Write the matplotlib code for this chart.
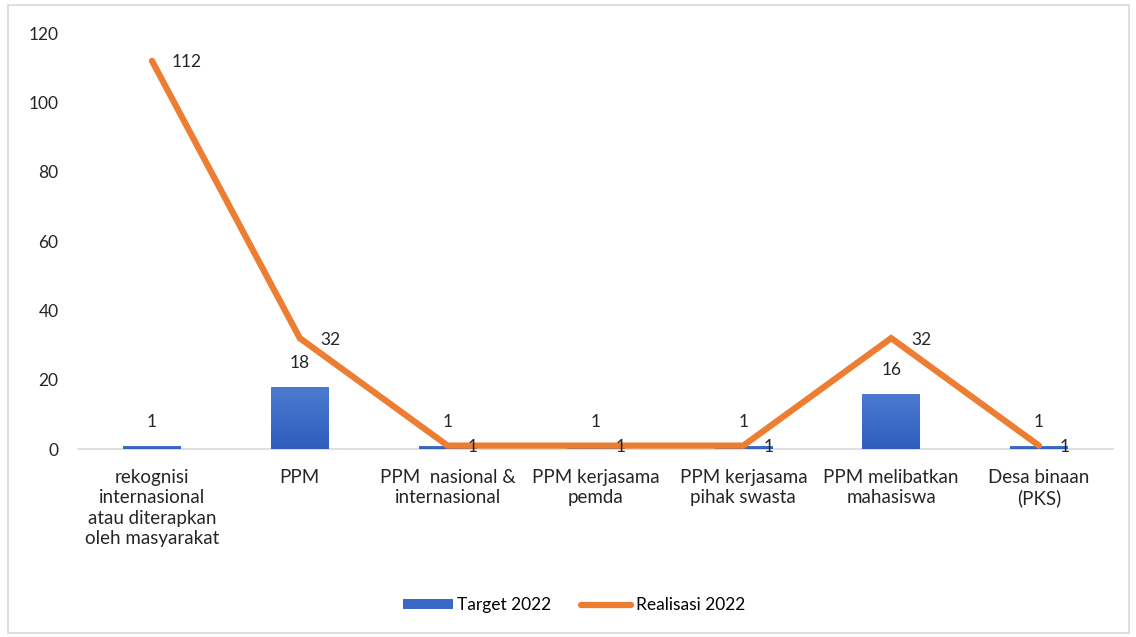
import matplotlib.pyplot as plt
from matplotlib.patches import Rectangle
from matplotlib.lines import Line2D
from matplotlib.patches import Patch
from matplotlib.colors import LinearSegmentedColormap
import numpy as np

kategori = ["rekognisi\ninternasional\natau diterapkan\noleh masyarakat",
            "PPM",
            "PPM  nasional &\ninternasional",
            "PPM kerjasama\npemda",
            "PPM kerjasama\npihak swasta",
            "PPM melibatkan\nmahasiswa",
            "Desa binaan\n(PKS)"]
target = [1, 18, 1, 1, 1, 16, 1]
realisasi = [112, 32, 1, 1, 1, 32, 1]
y_ticks = [0, 20, 40, 60, 80, 100, 120]

plt.rcParams['font.family'] = ['Lato', 'DejaVu Sans']
biru = '#3A68C6'
oranye = '#ED7D31'
tekst = '#262626'

fig = plt.figure(figsize=(11.36, 6.37), dpi=100)
ax = fig.add_axes([0.0687, 0.295, 0.911, 0.653])

x = np.arange(len(kategori))
lebar = 0.39
bars = ax.bar(x, target, width=lebar, color=biru, zorder=2)
# gradasi biru seperti di excel
cmap = LinearSegmentedColormap.from_list('g', ['#2E5DBE', '#4D7BD0'])
grad = np.linspace(0, 1, 100).reshape(-1, 1)
for b in bars:
    bx, by = b.get_x(), b.get_y()
    im = ax.imshow(grad, cmap=cmap, aspect='auto', origin='lower',
                   extent=[bx, bx + b.get_width(), by, by + b.get_height()], zorder=2)
    im.set_clip_path(b)
ax.plot(x, realisasi, color=oranye, lw=4.5, solid_capstyle='round', solid_joinstyle='miter', zorder=3)

for i, v in enumerate(target):
    ax.annotate(str(v), (x[i], v), xytext=(0, 17), textcoords='offset points',
                ha='center', va='center', fontsize=12.5, color=tekst)
for i, v in enumerate(realisasi):
    ax.annotate(str(v), (x[i], v), xytext=(14.5, -1), textcoords='offset points',
                ha='left', va='center', fontsize=12.5, color=tekst, zorder=4)

ax.set_xlim(-0.5, len(kategori) - 0.5)
ax.set_ylim(0, 120)
ax.set_yticks(y_ticks)
ax.set_xticks(x)
ax.set_xticklabels(kategori, fontsize=13.5, color=tekst, linespacing=1.25)
ax.tick_params(axis='both', length=0, labelcolor=tekst)
ax.tick_params(axis='y', pad=14, labelsize=12.5)
ax.tick_params(axis='x', pad=14)
for s in ['top', 'right', 'left']:
    ax.spines[s].set_visible(False)
ax.spines['bottom'].set_color('#D9D9D9')
ax.spines['bottom'].set_linewidth(1.2)
ax.spines['bottom'].set_zorder(1)

handles = [Patch(facecolor=biru, label='Target 2022'),
           Line2D([0], [0], color=oranye, lw=4.5, solid_capstyle='round', label='Realisasi 2022')]
fig.legend(handles=handles, loc='center', bbox_to_anchor=(0.505, 0.05), ncol=2,
           frameon=False, fontsize=12.5, handlelength=2.9, handleheight=0.45,
           handletextpad=0.25, columnspacing=1.7)

fig.patches.append(Rectangle((0.007, 0.006), 0.987, 0.986, transform=fig.transFigure,
                             fill=False, edgecolor='#D9D9D9', lw=1.2))

fig.savefig('out.png', dpi=100)
